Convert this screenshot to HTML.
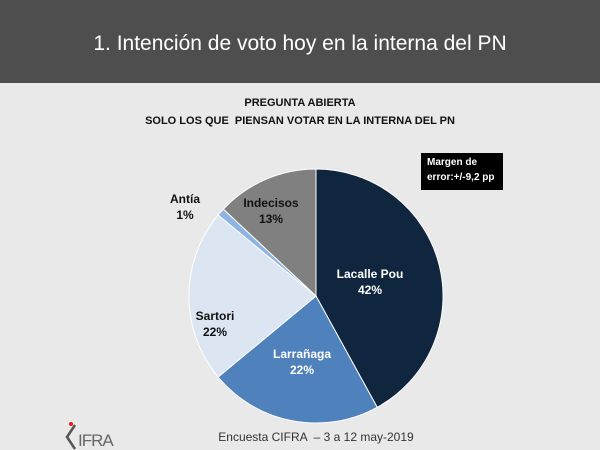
<!DOCTYPE html>
<html><head><meta charset="utf-8"><style>
body{margin:0;width:600px;height:450px;background:#e9e9e9;position:relative;overflow:hidden;font-family:"Liberation Sans",sans-serif}
.hdr{position:absolute;left:0;top:0;width:600px;height:83px;background:#4e4e4e;color:#fff;font-size:21px;text-align:center;line-height:88px}
.t{position:absolute;left:0;width:600px;text-align:center;font-size:11px;font-weight:bold;color:#111}
.lbl{position:absolute;font-weight:bold;font-size:12px;text-align:center;line-height:16px}
</style></head><body>
<div class="hdr">1. Intención de voto hoy en la interna del PN</div>
<div class="t" style="top:97px">PREGUNTA ABIERTA</div>
<div class="t" style="top:115px">SOLO LOS QUE&nbsp; PIENSAN VOTAR EN LA INTERNA DEL PN</div>
<div style="position:absolute;left:421px;top:153px;width:82px;height:37px;background:#000;color:#fff;font-size:10px;font-weight:bold;line-height:15px;padding:2px 0 0 6px;box-sizing:border-box">Margen de<br>error:+/-9,2 pp</div>
<svg style="position:absolute;left:0;top:0" width="600" height="450">
<g stroke="#fff" stroke-width="1">
<path d="M316,296 L316,169 A127,127 0 0 1 377.2,407.3 Z" fill="#10263f"/>
<path d="M316,296 L377.2,407.3 A127,127 0 0 1 218.1,377 Z" fill="#4f81bd"/>
<path d="M316,296 L218.1,377 A127,127 0 0 1 218.1,215 Z" fill="#dce6f2"/>
<path d="M316,296 L218.1,215 A127,127 0 0 1 223.4,209.1 Z" fill="#8db4e2"/>
<path d="M316,296 L223.4,209.1 A127,127 0 0 1 316,169 Z" fill="#808080"/>
</g>
<g fill="none" stroke="#555" stroke-width="2.5"><path d="M75,425 L67,437 L75,449"/></g>
<circle cx="71" cy="424" r="2" fill="#e02020"/>
<text x="78" y="446" font-family="Liberation Sans" font-size="17" fill="#666" letter-spacing="-1">IFRA</text>
</svg>
<div class="lbl" style="left:330px;top:266px;width:80px;color:#fff">Lacalle Pou<br>42%</div>
<div class="lbl" style="left:262px;top:346px;width:80px;color:#fff">Larrañaga<br>22%</div>
<div class="lbl" style="left:185px;top:308px;width:60px;color:#111">Sartori<br>22%</div>
<div class="lbl" style="left:160px;top:191px;width:50px;color:#111">Antía<br>1%</div>
<div class="lbl" style="left:236px;top:195px;width:70px;color:#111">Indecisos<br>13%</div>
<div style="position:absolute;left:0;width:600px;top:430px;text-align:center;font-size:12px;color:#333;padding-left:32px;box-sizing:border-box">Encuesta CIFRA &nbsp;– 3 a 12 may-2019</div>
</body></html>
